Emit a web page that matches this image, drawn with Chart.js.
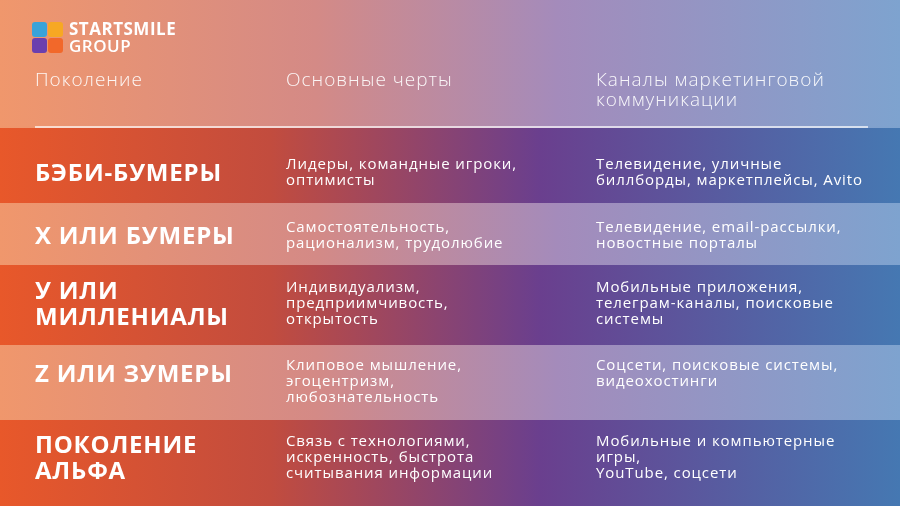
<!DOCTYPE html>
<html>
<head>
<meta charset="utf-8">
<script src="https://cdn.jsdelivr.net/npm/chart.js@4"></script>
<style>
html, body { margin: 0; padding: 0; background: #c98a90; }
#wrap { width: 900px; height: 506px; }
</style>
</head>
<body>
<div id="wrap"><canvas id="genChart" width="900" height="506"></canvas></div>
<script>
// table content
var headers = ['Поколение', 'Основные черты', 'Каналы маркетинговой\nкоммуникации'];
var generations = ['БЭБИ-БУМЕРЫ', 'X ИЛИ БУМЕРЫ', 'У ИЛИ\nМИЛЛЕНИАЛЫ', 'Z ИЛИ ЗУМЕРЫ', 'ПОКОЛЕНИЕ\nАЛЬФА'];
var traits = [
    'Лидеры, командные игроки,\nоптимисты',
    'Самостоятельность,\nрационализм, трудолюбие',
    'Индивидуализм,\nпредприимчивость,\nоткрытость',
    'Клиповое мышление,\nэгоцентризм,\nлюбознательность',
    'Связь с технологиями,\nискренность, быстрота\nсчитывания информации'
];
var channels = [
    'Телевидение, уличные\nбиллборды, маркетплейсы, Avito',
    'Телевидение, email-рассылки,\nновостные порталы',
    'Мобильные приложения,\nтелеграм-каналы, поисковые\nсистемы',
    'Соцсети, поисковые системы,\nвидеохостинги',
    'Мобильные и компьютерные\nигры,\nYouTube, соцсети'
];

// layout (page pixel units on the scales)
var rowEdges = [128, 203, 265, 345, 420, 506];
var textTop = [165, 228, 288, 366, 442];
var colX = [35, 286, 596];

function grad(ctx, x0, x1, stops) {
    var g = ctx.createLinearGradient(x0, 0, x1, 0);
    stops.forEach(function(s) { g.addColorStop(s[0], s[1]); });
    return g;
}

var tablePlugin = {
    id: 'table',
    beforeDraw: function(chart) {
        var ctx = chart.ctx, xs = chart.scales.x, ys = chart.scales.y;
        var X = function(v) { return xs.getPixelForValue(v); };
        var Y = function(v) { return ys.getPixelForValue(v); };
        var x0 = X(0), x1 = X(900);
        ctx.save();
        ctx.fillStyle = grad(ctx, x0, x1, [[0, '#f0976c'], [0.35, '#d48a86'], [0.62, '#a48bbb'], [1, '#7ea3cf']]);
        ctx.fillRect(x0, Y(0), x1 - x0, Y(506) - Y(0));
        // dark rows
        var dark = grad(ctx, x0, x1, [[0, '#e8582a'], [0.3, '#c24c3e'], [0.6, '#6a3f8e'], [1, '#4578b2']]);
        for (var i = 0; i < generations.length; i += 2) {
            ctx.fillStyle = dark;
            ctx.fillRect(x0, Y(rowEdges[i]), x1 - x0, Y(rowEdges[i + 1]) - Y(rowEdges[i]));
        }
        // logo
        var sq = [['#39a3d9', 32, 22], ['#f7a823', 48, 22], ['#6b3fae', 32, 38], ['#f2682a', 48, 38]];
        sq.forEach(function(s) {
            ctx.fillStyle = s[0];
            ctx.beginPath();
            ctx.roundRect(X(s[1]), Y(s[2]), 15, 15, 3);
            ctx.fill();
        });
        ctx.fillStyle = '#ffffff';
        ctx.textBaseline = 'middle';
        ctx.letterSpacing = '0.5px';
        ctx.font = 'bold 17px "Open Sans"';
        ctx.fillText('STARTSMILE', X(69), Y(30));
        ctx.font = '600 17px "Open Sans"';
        ctx.fillText('GROUP', X(69), Y(47));
        // headers
        ctx.letterSpacing = '1px';
        ctx.font = '300 19px "Open Sans"';
        ctx.fillStyle = 'rgba(255,255,255,0.92)';
        headers.forEach(function(h, c) {
            h.split('\n').forEach(function(line, k) {
                ctx.fillText(line, X(colX[c]), Y(81 + k * 20));
            });
        });
        ctx.strokeStyle = 'rgba(255,255,255,0.9)';
        ctx.lineWidth = 1.5;
        ctx.beginPath();
        ctx.moveTo(X(35), Y(127));
        ctx.lineTo(X(868), Y(127));
        ctx.stroke();
        // rows
        ctx.fillStyle = '#ffffff';
        for (var r = 0; r < generations.length; r++) {
            var t = textTop[r];
            var lab = generations[r].split('\n');
            ctx.letterSpacing = '0.8px';
            ctx.font = 'bold 24px "Open Sans"';
            lab.forEach(function(line, k) {
                var y = lab.length === 1 ? t + 9 : t + 4 + k * 26;
                ctx.fillText(line, X(colX[0]), Y(y));
            });
            ctx.letterSpacing = '0.9px';
            ctx.font = '500 15px "Open Sans"';
            traits[r].split('\n').forEach(function(line, k) {
                ctx.fillText(line, X(colX[1]), Y(t + k * 16));
            });
            channels[r].split('\n').forEach(function(line, k) {
                ctx.fillText(line, X(colX[2]), Y(t + k * 16));
            });
        }
        ctx.restore();
    }
};

var ctx = document.getElementById('genChart').getContext('2d');
var chart = new Chart(ctx, {
    type: 'scatter',
    data: { datasets: [{ data: [] }] },
    options: {
        responsive: false,
        animation: false,
        layout: { padding: 0 },
        plugins: { legend: { display: false }, tooltip: { enabled: false } },
        scales: {
            x: { type: 'linear', min: 0, max: 900, display: false },
            y: { type: 'linear', min: 0, max: 506, reverse: true, display: false }
        }
    },
    plugins: [tablePlugin]
});
</script>
</body>
</html>
